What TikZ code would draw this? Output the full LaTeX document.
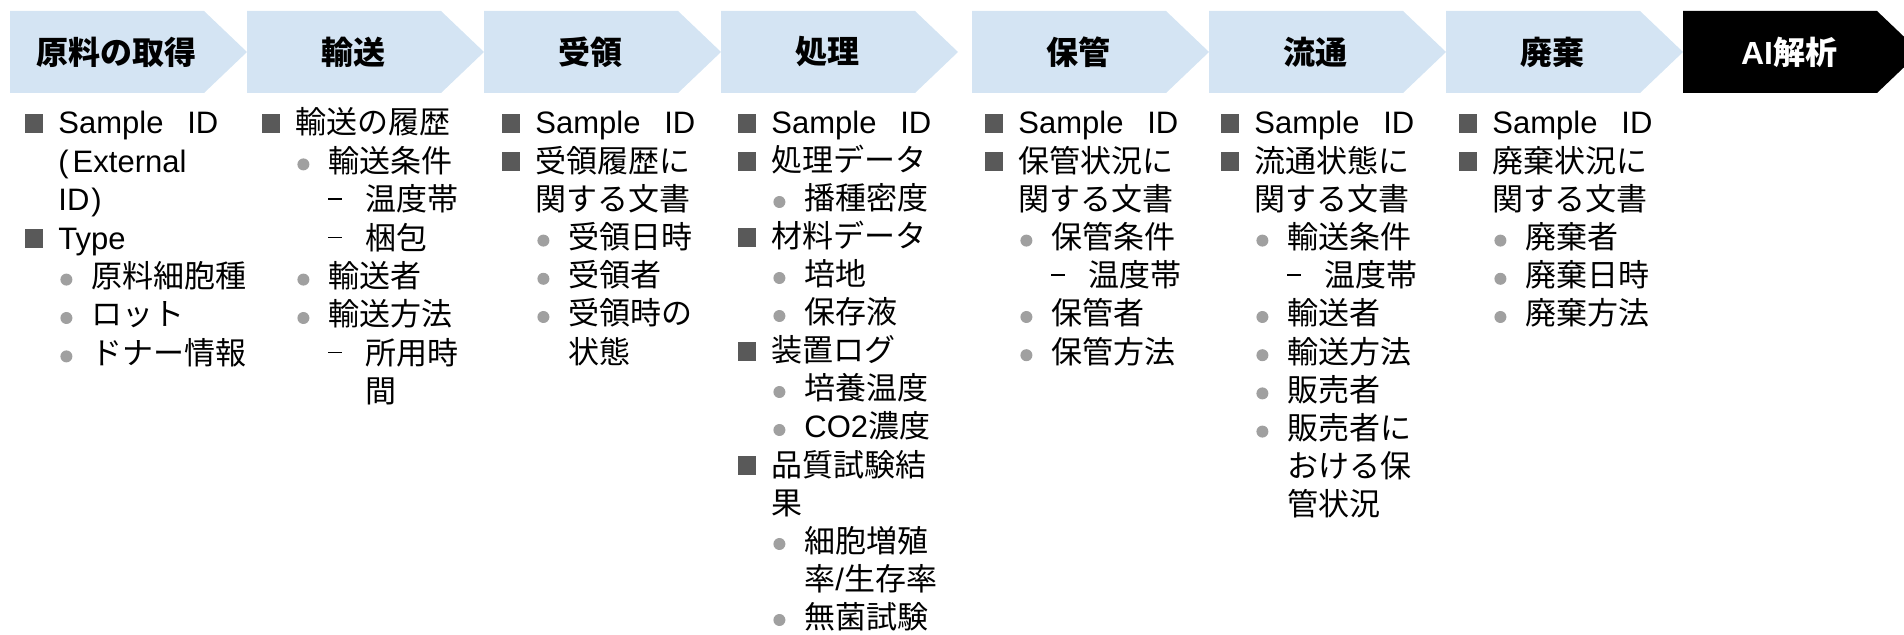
\documentclass[tikz,border=0pt]{standalone}
\usepackage{fontspec}
\setmainfont{Noto Sans CJK JP}
\newfontfamily\lat{Liberation Sans}
\definecolor{chev}{HTML}{D4E4F3}
\definecolor{sqgray}{HTML}{595959}
\definecolor{dotgray}{HTML}{A0A0A0}
% bullets
\newcommand\sqb{\textcolor{sqgray}{\rule[0.5pt]{9pt}{9.5pt}}}
\newcommand\dotb{\tikz[baseline=0pt]\fill[dotgray] (3pt,4pt) circle[radius=3pt];}
\newcommand\dashb{\rule[5.5pt]{7pt}{0.8pt}}
% line levels (1px = 0.5pt)
\newcommand\lvla[1]{\makebox[0pt][l]{\sqb}\hspace*{16.5pt}#1}
\newcommand\lvlb[1]{\hspace*{16.5pt}#1}
\newcommand\lvlc[1]{\hspace*{17.5pt}\makebox[0pt][l]{\dotb}\hspace*{15.5pt}#1}
\newcommand\lvld[1]{\hspace*{33pt}#1}
\newcommand\lvle[1]{\hspace*{33pt}\makebox[0pt][l]{\dashb}\hspace*{18.5pt}#1}
\newcommand\lvlf[1]{\hspace*{51.5pt}#1}
\newcommand\sid{{\lat\makebox[80pt][s]{Sample\hfill ID}}}
\newcommand\listcol[4]{%
  \foreach \lv/\tx [count=\i from 0] in {#4}{%
    \node[listline] (#1-\i) at (#2,{134+#3*\i}) {\csname lvl\lv\endcsname{\tx}};}}
\begin{document}
\begin{tikzpicture}[x=0.5pt,y=-0.5pt,
  listline/.style={anchor=base west, inner sep=0pt, font=\fontsize{15.5pt}{19pt}\selectfont},
  title/.style={inner sep=0pt, font=\fontsize{16pt}{19pt}\selectfont\bfseries},
  chevshape/.style={fill=chev}]
\useasboundingbox (0,0) rectangle (1904,635);
\clip (0,0) rectangle (1904,635);
\foreach \s/\t [count=\k] in {10/原料の取得, 247/輸送, 484/受領, 721/処理, 972/保管, 1209/流通, 1446/廃棄}{%
  \fill[chevshape] (\s,11) -- ++(194,0) -- ++(43,41) -- ++(-43,41) -- ++(-194,0) -- cycle;
  \node[title] (t\k) at ({\s+106},52) {\t};
}
\fill[black] (1683,11) -- ++(194,0) -- ++(43,41) -- ++(-43,41) -- ++(-194,0) -- cycle;
\node[title, text=white] (t8) at (1789,52) {{\lat AI}解析};

\listcol{c1}{25}{38.4}{a/\sid, b/{\lat(\hspace{2pt}External}, b/{\lat ID\hspace{1pt})}, a/{\lat Type}, c/原料細胞種, c/ロット, c/ドナー情報}
\listcol{c2}{262}{38.4}{a/輸送の履歴, c/輸送条件, e/温度帯, e/梱包, c/輸送者, c/輸送方法, e/所用時, f/間}
\listcol{c3}{502}{38.2}{a/\sid, a/受領履歴に, b/関する文書, c/受領日時, c/受領者, c/受領時の, d/状態}
\listcol{c4}{738}{38.0}{a/\sid, a/処理データ, c/播種密度, a/材料データ, c/培地, c/保存液, a/装置ログ, c/培養温度, c/{{\lat CO2}濃度}, a/品質試験結, b/果, c/細胞増殖, d/{率{\lat/}生存率}, c/無菌試験}
\listcol{c5}{985}{38.2}{a/\sid, a/保管状況に, b/関する文書, c/保管条件, e/温度帯, c/保管者, c/保管方法}
\listcol{c6}{1221}{38.2}{a/\sid, a/流通状態に, b/関する文書, c/輸送条件, e/温度帯, c/輸送者, c/輸送方法, c/販売者, c/販売者に, d/おける保, d/管状況}
\listcol{c7}{1459}{38.2}{a/\sid, a/廃棄状況に, b/関する文書, c/廃棄者, c/廃棄日時, c/廃棄方法}
\end{tikzpicture}
\end{document}
